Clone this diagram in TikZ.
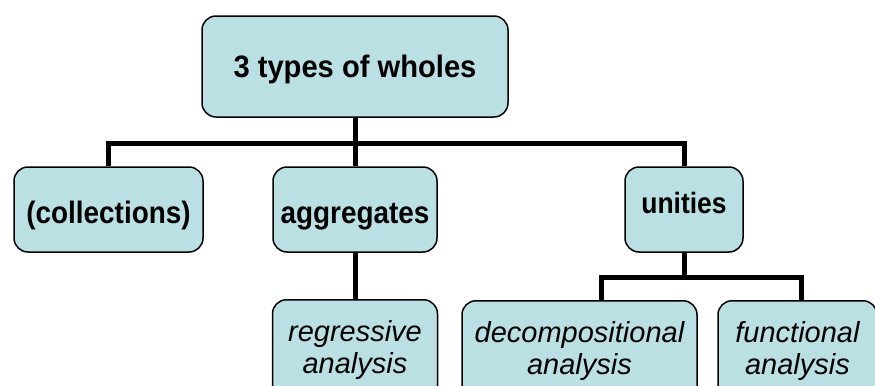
\documentclass[tikz,border=0pt]{standalone}
\usepackage{fontspec}
\setmainfont{Liberation Sans}
\newfontfamily\narrowfont[FakeStretch=0.9]{Liberation Sans}
\newfontfamily\topfont[FakeStretch=0.94]{Liberation Sans}
\definecolor{boxfill}{RGB}{187,224,227}

\begin{document}
\begin{tikzpicture}[x=0.5pt, y=-0.5pt,
  box/.style={draw, line width=0.75pt, fill=boxfill, rounded corners=7pt, inner sep=0pt},
  head/.style={box, minimum height=42.5pt, text height=13.5pt, text depth=0pt,
    font=\fontsize{15.5}{17}\narrowfont\bfseries},
  leaf/.style={box, anchor=north, align=center, minimum height=50pt,
    font=\fontsize{14.5}{16}\selectfont\itshape},
  link/.style={line width=2.5pt}]
\useasboundingbox (0,0) rectangle (875,386);
\clip (0,0) rectangle (875,386);

\node[box, minimum width=153pt, minimum height=50.5pt, text height=10.5pt, text depth=0pt,
  font=\fontsize{15.5}{17}\topfont\bfseries] (whole) at (355,66.5) {3 types of wholes};
\node[head, minimum width=94.5pt] (coll) at (108.5,209.5) {(collections)};
\node[head, minimum width=82pt] (aggr) at (355,209.5) {aggregates};
\node[head, minimum width=59pt, text height=3.5pt,
  font=\fontsize{14.7}{17}\narrowfont\bfseries] (unit) at (684,209.5) {unities};

\node[leaf, minimum width=82.5pt] (regr) at (355,299) {regressive\\analysis};
\node[leaf, minimum width=117.5pt] (deco) at (579.5,300) {decompositional\\analysis};
\node[leaf, minimum width=79.5pt] (func) at (797.5,300) {functional\\analysis};

\coordinate (wholebar) at (355,143);
\coordinate (unitbar) at (684,277);

\draw[link] (coll.north) |- (wholebar) -| (unit.north);
\draw[link] (whole.south) -- (aggr.north);
\draw[link] (aggr.south) -- (regr.north);
\draw[link] (unit.south) -- (unitbar);
\draw[link] ([xshift=11pt]deco.north) |- (unitbar) -| ([xshift=2pt]func.north);
\end{tikzpicture}
\end{document}
